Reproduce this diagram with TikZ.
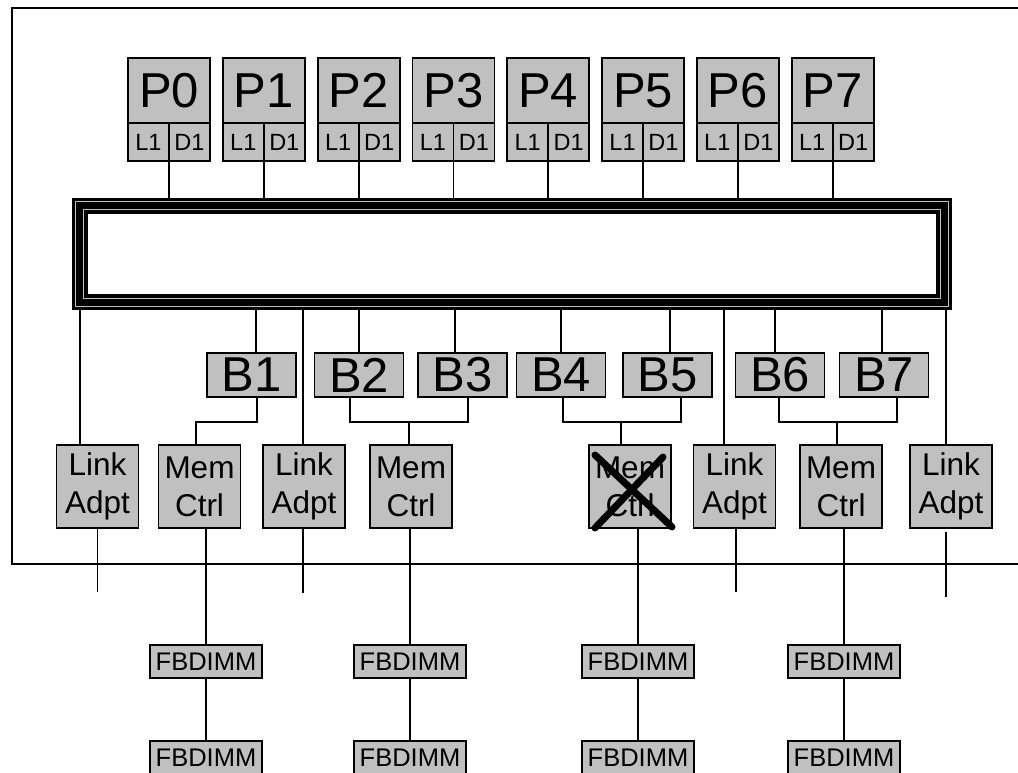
\documentclass[tikz,border=0pt]{standalone}
\usepackage{fontspec}
\setmainfont{Liberation Sans}
\usetikzlibrary{calc,positioning}
\definecolor{boxgray}{RGB}{192,192,192}

\tikzset{
  unit/.style={draw, fill=boxgray, line width=1.8pt, inner sep=0pt, outer sep=0pt},
  cpu/.style={unit, minimum width=82pt, minimum height=65pt, font=\fontsize{49}{49}\selectfont},
  cache/.style={unit, minimum width=41pt, minimum height=38pt, font=\fontsize{23.5}{23.5}\selectfont},
  bank/.style={unit, minimum width=89pt, minimum height=44pt, font=\fontsize{49}{49}\selectfont},
  ctrl/.style={unit, minimum width=82pt, minimum height=83pt, align=center, font=\fontsize{31.5}{38}\selectfont},
  dimm/.style={unit, minimum width=112pt, minimum height=33pt, font=\fontsize{25.5}{25.5}\selectfont},
  wire/.style={line width=1.8pt},
  busline/.style={draw=boxgray, line width=1.3pt},
  cross/.style={line width=7pt, line cap=round},
}

\begin{document}
\begin{tikzpicture}[x=1pt,y=-1pt]
\useasboundingbox (0,0) rectangle (1018,772);
\clip (0,0) rectangle (1018,772);

% chip outline
\draw[wire] (1018,8) -| (12,564) -- (1018,564);

% crossbar
\node[fill=black, minimum width=880pt, minimum height=112pt, inner sep=0pt] (bus) at (512,254) {};
\draw[busline] ($(bus.north west)+(4,4)$) rectangle ($(bus.south east)+(-4,-4)$);
\draw[busline] ($(bus.north west)+(12,12)$) rectangle ($(bus.south east)+(-12,-12)$);
\fill[white] ($(bus.north west)+(16.5,16.5)$) rectangle ($(bus.south east)+(-16.5,-16.5)$);

% processors with L1 / D1
\foreach \i in {0,...,7} {
  \node[cpu] (p\i) at ({169+94.8*\i},90.5) {P\i};
  \node[cache, anchor=north east] (l\i) at (p\i.south) {L1};
  \node[cache, anchor=north west] (d\i) at (p\i.south) {D1};
  \draw[wire] (l\i.south east) -- (l\i.south east |- bus.north);
}

% banks
\foreach \n/\x/\t in {1/251.5/4.5, 2/359/0, 3/462.5/-7.5, 4/561/0, 5/667.5/2.5, 6/780/-5, 7/884/-2} {
  \node[bank] (b\n) at (\x,375) {B\n};
  \draw[wire] ([xshift=\t pt]b\n.north) -- ([xshift=\t pt]b\n.north |- bus.south);
}

% link adapters and memory controllers
\node[ctrl] (la1) at (97.5,486.5) {Link\\Adpt};
\node[ctrl] (mc1) at (199.5,486.5) {Mem\\Ctrl};
\node[ctrl] (la2) at (304,486.5) {Link\\Adpt};
\node[ctrl] (mc2) at (411,486.5) {Mem\\Ctrl};
\node[ctrl] (mc3) at (630,486.5) {Mem\\Ctrl};
\node[ctrl] (la3) at (734.5,486.5) {Link\\Adpt};
\node[ctrl] (mc4) at (841,486.5) {Mem\\Ctrl};
\node[ctrl] (la4) at (951,486.5) {Link\\Adpt};

\foreach \n/\t in {1/-17.5, 2/-1, 3/-10.5, 4/-5}
  \draw[wire] ([xshift=\t pt]la\n.north) -- ([xshift=\t pt]la\n.north |- bus.south);

\draw[wire] (la1.south) -- ++(0,64);
\draw[wire] ([xshift=-1pt]la2.south) -- ++(0,65);
\draw[wire] ([xshift=1.5pt]la3.south) -- ++(0,64);
\draw[wire] ([shift={(-5,4)}]la4.south) -- ++(0,65);

% banks to controllers
\draw[wire] ([xshift=5.5pt]b1.south) -- ++(0,25) -| ([xshift=-3.5pt]mc1.north);
\draw[wire] ([xshift=-9pt]b2.south) -- ++(0,25) -| ([xshift=5.5pt]b3.south);
\draw[wire] ([xshift=-2pt]mc2.north) -- ++(0,-23);
\draw[wire] ([xshift=2pt]b4.south) -- ++(0,25) -| ([xshift=13.5pt]b5.south);
\draw[wire] ([xshift=-9pt]mc3.north) -- ++(0,-23);
\draw[wire] ([xshift=-1pt]b6.south) -- ++(0,25) -| ([xshift=13pt]b7.south);
\draw[wire] ([xshift=-4pt]mc4.north) -- ++(0,-23);

% FBDIMM chains
\foreach \n/\x in {1/206, 2/410, 3/638, 4/844} {
  \node[dimm] (fa\n) at (\x,661.5) {FBDIMM};
  \node[dimm] (fb\n) at (\x,757.5) {FBDIMM};
  \draw[wire] (fa\n.north) -- (fa\n.north |- mc\n.south);
  \draw[wire] (fa\n.south) -- (fb\n.north);
}

% failed controller
\draw[cross] ($(mc3.center)+(-35,-31.5)$) -- ($(mc3.center)+(42,40.5)$);
\draw[cross] ($(mc3.center)+(-35,41.5)$) -- ($(mc3.center)+(33,-29.5)$);
\end{tikzpicture}
\end{document}
